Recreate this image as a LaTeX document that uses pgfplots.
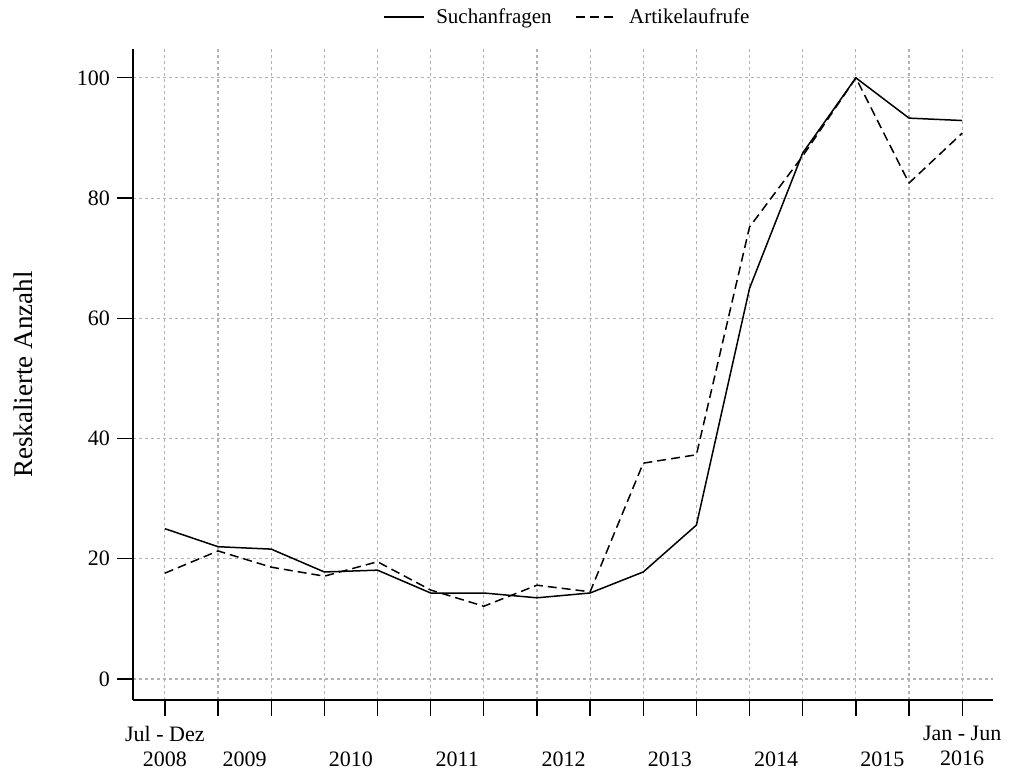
\documentclass[border=0pt]{standalone}
\usepackage{fontspec}
\setmainfont{Liberation Serif}
\usepackage{pgfplots}
\pgfplotsset{compat=1.18}
\begin{document}
\begin{tikzpicture}
\useasboundingbox (0pt,0pt) rectangle (1010pt,777pt);
\begin{axis}[
  at={(133pt,77pt)}, anchor=south west,
  scale only axis, width=860pt, height=651pt,
  xmin=-0.6, xmax=15.58, ymin=-3.5, ymax=104.8,
  axis x line=bottom, axis y line=left,
  axis line style={-, line width=1.3pt, black},
  tick style={line width=1.3pt, black},
  tick align=outside, major tick length=16pt,
  xtick={0,1,...,15}, xticklabels={},
  ytick={0,20,40,60,80,100},
  extra x ticks={0,1.5,3.5,5.5,7.5,9.5,11.5,13.5,15},
  extra x tick labels={Jul - Dez\\2008, \vphantom{Jul}\\2009, \vphantom{Jul}\\2010, \vphantom{Jul}\\2011, \vphantom{Jul}\\2012, \vphantom{Jul}\\2013, \vphantom{Jul}\\2014, \vphantom{Jul}\\2015, Jan - Jun\\2016},
  extra x tick style={major tick length=0pt, grid=none,
     tick label style={align=center, font=\fontsize{22}{25}\selectfont, anchor=north, inner sep=0pt, yshift=-26pt}},
  grid=major,
  grid style={line width=1.1pt, gray!60, dash pattern=on 3pt off 3pt},
  /pgf/number format/assume math mode=true,
  y tick label style={font=\fontsize{22}{25}\selectfont, anchor=east, inner sep=0pt, xshift=-7pt},
  ylabel={Reskalierte Anzahl},
  ylabel style={font=\fontsize{27}{30}\selectfont, at={(axis description cs:-0.1163,0.5)}, anchor=base, rotate=0},
  legend columns=2,
  legend style={draw=none, fill=none, font=\fontsize{21}{24}\selectfont,
     at={(rel axis cs:0.5047,1.049)}, anchor=center,
     /tikz/every odd column/.append style={column sep=10pt},
     /tikz/every even column/.append style={column sep=22pt}},
  legend image code/.code={\draw[#1] (0pt,0pt) -- (40pt,0pt);},
]
\addplot[black, line width=1.5pt, line join=round] coordinates {
 (0,25.0) (1,22.0) (2,21.6) (3,17.8) (4,18.1) (5,14.3) (6,14.3) (7,13.5)
 (8,14.3) (9,17.8) (10,25.6) (11,65.0) (12,87.5) (13,100) (14,93.3) (15,92.9)};
\addlegendentry{Suchanfragen}
\addplot[black, line width=1.5pt, line join=round, dash pattern=on 9pt off 5pt] coordinates {
 (0,17.6) (1,21.3) (2,18.6) (3,17.1) (4,19.5) (5,14.8) (6,12.1) (7,15.6)
 (8,14.5) (9,35.9) (10,37.3) (11,75.2) (12,87.0) (13,100) (14,82.5) (15,90.8)};
\addlegendentry{Artikelaufrufe}
\end{axis}
\end{tikzpicture}
\end{document}
